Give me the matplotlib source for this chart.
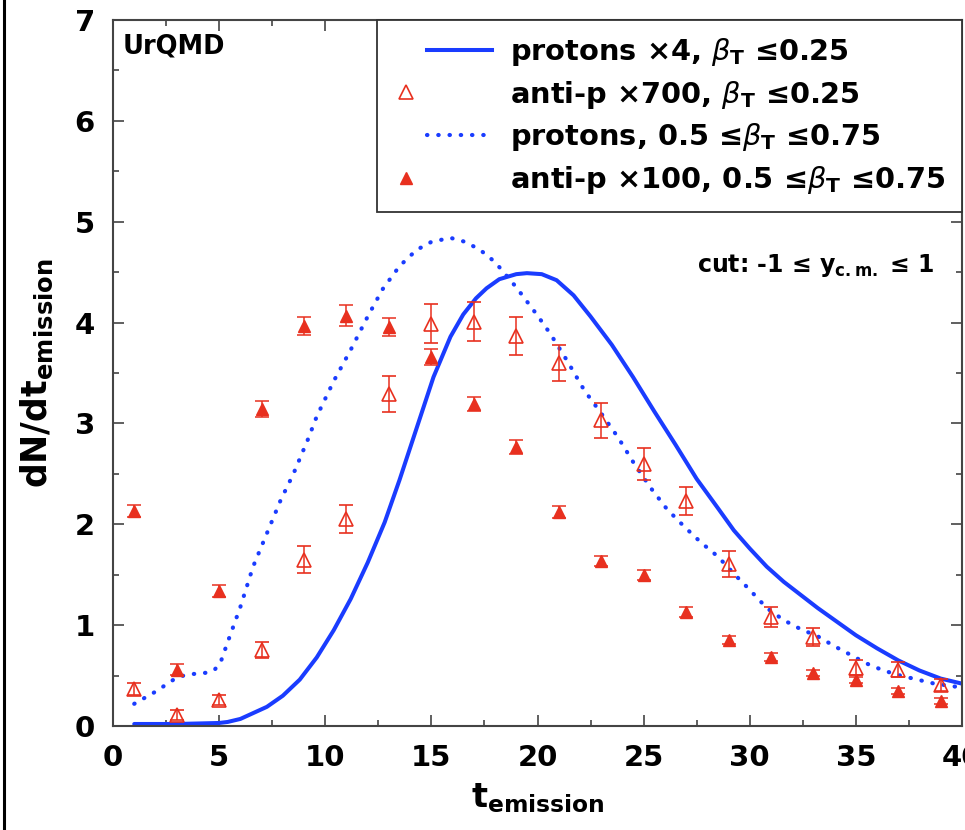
import numpy as np
import matplotlib
matplotlib.use("Agg")
import matplotlib.pyplot as plt
from matplotlib.lines import Line2D
from matplotlib.legend_handler import HandlerLine2D

# -----------------------------
# Data
# -----------------------------
t_bins = [1, 3, 5, 7, 9, 11, 13, 15, 17, 19, 21, 23, 25, 27, 29, 31, 33, 35, 37, 39]

# anti-p x700, beta_T <= 0.25 (open triangles)
pbar_low = [0.37, 0.11, 0.26, 0.75, 1.65, 2.05, 3.29, 3.99, 4.01, 3.87,
            3.60, 3.03, 2.60, 2.23, 1.61, 1.08, 0.88, 0.58, 0.56, 0.41]
pbar_low_err = [0.06, 0.05, 0.05, 0.08, 0.13, 0.14, 0.18, 0.19, 0.19, 0.19,
                0.18, 0.17, 0.16, 0.14, 0.13, 0.10, 0.09, 0.07, 0.07, 0.06]

# anti-p x100, 0.5 <= beta_T <= 0.75 (filled triangles)
pbar_high = [2.13, 0.56, 1.34, 3.14, 3.97, 4.07, 3.96, 3.66, 3.19, 2.77,
             2.12, 1.64, 1.50, 1.13, 0.85, 0.68, 0.53, 0.46, 0.35, 0.25]
pbar_high_err = [0.06, 0.05, 0.06, 0.08, 0.09, 0.10, 0.09, 0.08, 0.07, 0.07,
                 0.06, 0.05, 0.05, 0.05, 0.04, 0.04, 0.03, 0.03, 0.03, 0.03]

# protons x4, beta_T <= 0.25 (solid line)
t_p_low = [1, 3, 5, 5.4, 6, 7.25, 8, 8.8, 9.6, 10.4, 11.2, 12, 12.8, 13.5, 14.3,
           15.1, 15.9, 16.5, 17.1, 17.6, 18.2, 19, 19.5, 20.2, 20.9, 21.7, 22.5,
           23.5, 24.5, 25.5, 26.5, 27.5, 28.5, 29.25, 30, 30.8, 31.6, 32.4, 33.2,
           34, 35, 36, 37, 38, 39, 40]
p_low = [0.02, 0.02, 0.03, 0.04, 0.07, 0.19, 0.30, 0.46, 0.68, 0.95, 1.26, 1.62,
         2.02, 2.44, 2.95, 3.46, 3.86, 4.08, 4.24, 4.34, 4.43, 4.48, 4.49, 4.48,
         4.42, 4.27, 4.06, 3.78, 3.46, 3.12, 2.79, 2.45, 2.16, 1.94, 1.76, 1.58,
         1.43, 1.30, 1.17, 1.05, 0.90, 0.77, 0.65, 0.55, 0.47, 0.42]

# protons, 0.5 <= beta_T <= 0.75 (dotted line)
t_p_high = [1, 1.5, 2, 2.5, 3, 3.5, 4, 4.5, 4.8, 5.1, 5.4, 6, 6.6, 7.25, 7.9, 8.5,
            9.2, 9.6, 10.4, 11.2, 12, 12.7, 13.5, 14.3, 15, 15.9, 16.6, 17.3, 18,
            19, 20, 20.6, 21.4, 22.2, 23, 23.8, 24.5, 25.3, 26.1, 26.9, 27.7, 28.5,
            29.3, 30, 30.8, 31.6, 32.4, 33.2, 34, 34.8, 35.5, 36.3, 37.1, 37.9,
            38.7, 39.4, 40]
p_high = [0.22, 0.28, 0.34, 0.41, 0.48, 0.51, 0.52, 0.53, 0.56, 0.65, 0.83, 1.18,
          1.58, 1.91, 2.24, 2.50, 2.85, 3.07, 3.42, 3.73, 4.06, 4.33, 4.56, 4.72,
          4.80, 4.84, 4.80, 4.72, 4.60, 4.35, 4.07, 3.89, 3.62, 3.33, 3.10, 2.86,
          2.62, 2.37, 2.15, 1.98, 1.82, 1.68, 1.50, 1.35, 1.17, 1.05, 0.96, 0.89,
          0.79, 0.70, 0.62, 0.55, 0.50, 0.46, 0.42, 0.40, 0.38]

labels = [r'protons ×4, $\beta_{\mathbf{T}}$ ≤0.25',
          r'anti-p ×700, $\beta_{\mathbf{T}}$ ≤0.25',
          r'protons, 0.5 ≤$\beta_{\mathbf{T}}$ ≤0.75',
          r'anti-p ×100, 0.5 ≤$\beta_{\mathbf{T}}$ ≤0.75']

blue = '#1a3cff'
red = '#e8301f'

plt.rcParams['font.family'] = ['DejaVu Sans']
plt.rcParams['mathtext.fontset'] = 'dejavusans'


# gnuplot-like key: lines in the right part of the handle box,
# point markers further left
class GnuplotKey(HandlerLine2D):
    def __init__(self, start, stop, **kw):
        super().__init__(**kw)
        self.start, self.stop = start, stop

    def get_xdata(self, legend, xdescent, ydescent, width, height, fontsize):
        x0 = -xdescent
        xd = np.array([x0 + self.start * width, x0 + self.stop * width])
        return xd, np.array([xd.mean()])


# -----------------------------
# Plot
# -----------------------------
fig = plt.figure(figsize=(9.65, 8.3), dpi=100)
ax = fig.add_axes([113 / 965, 104 / 830, 849 / 965, 706 / 830])

ax.plot(t_p_low, p_low, color=blue, lw=2.9, solid_capstyle='round')
ax.plot(t_p_high, p_high, color=blue, lw=3.0, linestyle=(0, (0.1, 2.6)),
        dash_capstyle='round')
ax.errorbar(t_bins, pbar_low, yerr=pbar_low_err, fmt='^', ms=10, mfc='none',
            mec=red, mew=1.2, ecolor=red, elinewidth=1.1, capsize=5, capthick=1.1)
ax.errorbar(t_bins, pbar_high, yerr=pbar_high_err, fmt='^', ms=9, color=red,
            ecolor=red, elinewidth=1.1, capsize=5, capthick=1.1)

ax.set_xlim(0, 40)
ax.set_ylim(0, 7)
ax.set_xticks(np.arange(0, 41, 5))
ax.set_xticks(np.arange(0, 40.1, 2.5), minor=True)
ax.set_yticks(np.arange(0, 8, 1))
ax.set_yticks(np.arange(0, 7.1, 0.5), minor=True)
ax.tick_params(which='both', direction='in', top=True, right=True,
               color='#444444', width=1.2)
ax.tick_params(which='major', length=8, labelsize=21, pad=13)
ax.tick_params(which='minor', length=4)
for lab in ax.get_xticklabels() + ax.get_yticklabels():
    lab.set_fontweight('bold')
for sp in ax.spines.values():
    sp.set_color('#444444')
    sp.set_linewidth(1.5)

ax.set_xlabel(r't$_{\mathbf{emission}}$', fontsize=24, fontweight='bold')
ax.set_ylabel(r'dN/dt$_{\mathbf{emission}}$', fontsize=25, fontweight='bold')
ax.xaxis.set_label_coords(0.5, -0.078)
ax.yaxis.set_label_coords(-0.068, 0.5)

ax.text(0.011, 0.962, 'UrQMD', transform=ax.transAxes, fontsize=18.5,
        fontweight='bold', ha='left', va='center')
ax.text(0.968, 0.652, r'cut: -1 ≤ y$_{\mathbf{c.m.}}$ ≤ 1',
        transform=ax.transAxes, fontsize=17, fontweight='bold',
        ha='right', va='center')

h_solid = Line2D([], [], color=blue, lw=2.9)
h_open = Line2D([], [], ls='None', marker='^', ms=10, mfc='none', mec=red, mew=1.2)
h_dot = Line2D([], [], color=blue, lw=3.0, ls=(0, (0.1, 2.6)), dash_capstyle='round')
h_fill = Line2D([], [], ls='None', marker='^', ms=9, color=red)
line_key = GnuplotKey(0.34, 1.0)
point_key = GnuplotKey(0.05, 0.2)

leg = ax.legend([h_solid, h_open, h_dot, h_fill], labels,
                loc='upper right', bbox_to_anchor=(1, 1),
                borderaxespad=0, fancybox=False, edgecolor='#333333',
                framealpha=1, prop={'size': 20.8, 'weight': 'bold'},
                handlelength=3.4, handletextpad=0.65,
                labelspacing=0.37, borderpad=0.55,
                handler_map={h_solid: line_key, h_dot: line_key,
                             h_open: point_key, h_fill: point_key})
leg.get_frame().set_linewidth(1.3)

# black frame line on the left edge of the crop
fig.add_artist(Line2D([0.0045, 0.0045], [0, 1], transform=fig.transFigure,
                      color='black', lw=2.2))

fig.savefig('out.png', dpi=100)
